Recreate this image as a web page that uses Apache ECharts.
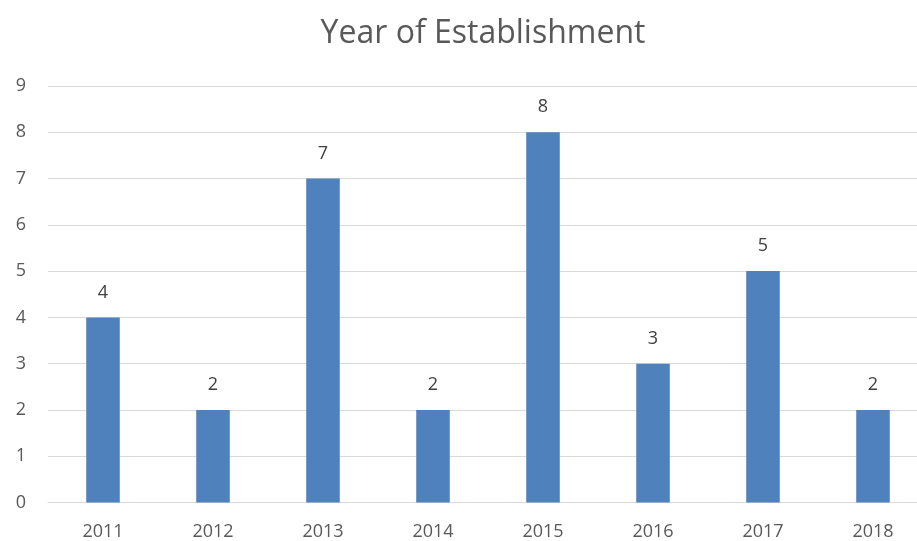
<!DOCTYPE html>
<html><head><meta charset="utf-8">
<script src="https://cdn.jsdelivr.net/npm/echarts@6/dist/echarts.min.js"></script>
<style>html,body{margin:0;padding:0;background:#fff;overflow:hidden;width:917px;height:541px}#c{width:940px;height:541px}</style>
</head><body><div id="c"></div>
<script>
var categories = ['2011','2012','2013','2014','2015','2016','2017','2018'];
var counts = [4, 2, 7, 2, 8, 3, 5, 2];
var yTicks = {min: 0, max: 9, interval: 1};
var chart = echarts.init(document.getElementById('c'));
var font = '"Open Sans", "Noto Sans", sans-serif';
chart.setOption({
  animation: false,
  title: {
    text: 'Year of Establishment',
    left: 478, top: 13, textAlign: 'center',
    textStyle: {fontFamily: font, fontSize: 32, fontWeight: 'normal', color: '#595959'}
  },
  grid: {left: 48, top: 86, width: 880, height: 416.5, containLabel: false},
  xAxis: {
    type: 'category', data: categories,
    axisLine: {lineStyle: {color: '#d9d9d9', width: 1}},
    axisTick: {show: false},
    axisLabel: {fontFamily: font, fontSize: 18, color: '#595959', margin: 20}
  },
  yAxis: {
    type: 'value', min: yTicks.min, max: yTicks.max, interval: yTicks.interval,
    axisLine: {show: false}, axisTick: {show: false},
    splitLine: {lineStyle: {color: '#d9d9d9', width: 1}},
    axisLabel: {fontFamily: font, fontSize: 18, color: '#595959', margin: 22}
  },
  series: [{
    type: 'bar', data: counts, barWidth: '30.5%',
    itemStyle: {color: '#4f81bd'},
    label: {show: true, position: 'top', distance: 16, fontFamily: font, fontSize: 18, color: '#404040'}
  }]
});
</script></body></html>
